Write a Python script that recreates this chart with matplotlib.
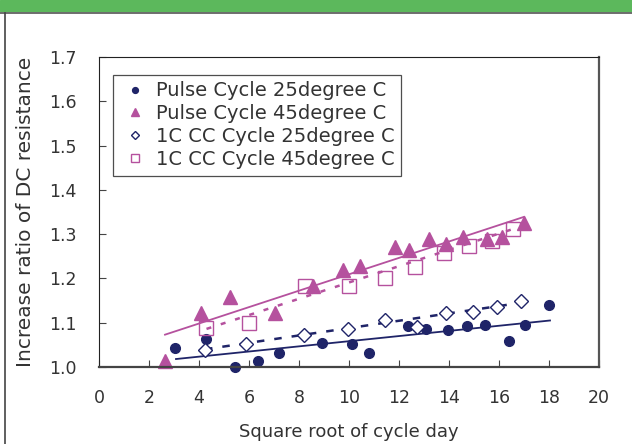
import numpy as np
import matplotlib.pyplot as plt
from matplotlib.patches import Rectangle

# data
pulse25_x = [3.04, 4.28, 5.44, 6.36, 7.2, 8.92, 10.12, 10.8, 12.36, 13.08, 13.96, 14.72, 15.44, 16.4, 17.04, 18.0]
pulse25_y = [1.043, 1.064, 1.000, 1.014, 1.032, 1.055, 1.052, 1.032, 1.093, 1.086, 1.084, 1.093, 1.095, 1.059, 1.095, 1.141]

pulse45_x = [2.64, 4.08, 5.24, 7.04, 8.56, 9.76, 10.44, 11.84, 12.4, 13.2, 13.88, 14.56, 15.52, 16.12, 17.0]
pulse45_y = [1.014, 1.123, 1.157, 1.123, 1.182, 1.220, 1.227, 1.270, 1.265, 1.290, 1.277, 1.293, 1.288, 1.293, 1.325]

cc25_x = [4.24, 5.88, 8.2, 9.96, 11.44, 12.72, 13.88, 14.96, 15.92, 16.88]
cc25_y = [1.039, 1.052, 1.073, 1.086, 1.107, 1.091, 1.123, 1.125, 1.136, 1.150]

cc45_x = [4.28, 6.0, 8.24, 10.0, 11.44, 12.64, 13.8, 14.8, 15.72, 16.56]
cc45_y = [1.089, 1.100, 1.184, 1.184, 1.202, 1.225, 1.257, 1.273, 1.284, 1.311]

# trend line end points
trend_p25_x = [3.08, 18.04]
trend_p25_y = [1.018, 1.105]
trend_p45_x = [2.64, 17.0]
trend_p45_y = [1.073, 1.339]
trend_cc25_x = [4.24, 16.88]
trend_cc25_y = [1.040, 1.145]
trend_cc45_x = [4.3, 16.8]
trend_cc45_y = [1.086, 1.316]

xticks = np.arange(0, 21, 2)
yticks = [1.0, 1.1, 1.2, 1.3, 1.4, 1.5, 1.6, 1.7]

navy = '#1f2468'
magenta = '#b5519e'
txt = '#333333'

plt.rcParams['font.family'] = ['DejaVu Sans']

fig = plt.figure(figsize=(6.32, 4.44), dpi=100)

# green banner and frame lines
fig.patches.append(Rectangle((0, 1 - 11 / 444), 1, 11 / 444, transform=fig.transFigure,
                             color='#5cb85c', zorder=0))
fig.add_artist(plt.Line2D([0, 1], [1 - 13 / 444, 1 - 13 / 444], transform=fig.transFigure,
                          color='#555555', lw=1.2))
fig.add_artist(plt.Line2D([4.5 / 632, 4.5 / 632], [0, 1 - 13 / 444], transform=fig.transFigure,
                          color='#444444', lw=1.2))

ax = fig.add_axes([99 / 632, 1 - 367 / 444, 500 / 632, 310 / 444])

ax.plot(trend_p25_x, trend_p25_y, color=navy, lw=1.3)
ax.plot(trend_p45_x, trend_p45_y, color=magenta, lw=1.3)
ax.plot(trend_cc25_x, trend_cc25_y, color=navy, lw=1.8, ls=(0, (3, 4)))
ax.plot(trend_cc45_x, trend_cc45_y, color=magenta, lw=1.8, ls=(0, (2, 4)))

ax.plot(pulse25_x, pulse25_y, 'o', color=navy, ms=7, label='Pulse Cycle 25degree C', clip_on=False)
ax.plot(pulse45_x, pulse45_y, '^', color=magenta, ms=10, label='Pulse Cycle 45degree C', clip_on=False)
ax.plot(cc25_x, cc25_y, 'D', mfc='white', mec=navy, mew=1.0, ms=7, label='1C CC Cycle 25degree C')
ax.plot(cc45_x, cc45_y, 's', mfc='none', mec=magenta, mew=1.0, ms=10, label='1C CC Cycle 45degree C')

ax.set_xlim(0, 20)
ax.set_ylim(1.0, 1.7)
ax.set_xticks(xticks)
ax.set_yticks(yticks)
ax.set_yticklabels([f'{v:.1f}' for v in yticks])
ax.tick_params(direction='in', length=5, labelsize=12.5, colors='#444444', labelcolor=txt)
ax.tick_params(axis='y', pad=16)
ax.tick_params(axis='x', pad=16)
for s in ax.spines.values():
    s.set_color('#222222')
ax.spines['right'].set_color('#555555')
ax.spines['bottom'].set_color('#444444')
ax.spines['right'].set_linewidth(1.6)
ax.spines['bottom'].set_linewidth(1.6)

ax.set_xlabel('Square root of cycle day', fontsize=13, color=txt, labelpad=11)
ax.set_ylabel('Increase ratio of DC resistance', fontsize=14.5, color=txt, labelpad=10)

leg = ax.legend(loc='upper left', bbox_to_anchor=(14 / 500, 1 - 18 / 310), fontsize=14,
                frameon=True, fancybox=False, edgecolor='#222222', handlelength=1.6,
                handletextpad=0.3, borderpad=0.33, labelspacing=0.2, markerscale=0.6,
                borderaxespad=0)
for t in leg.get_texts():
    t.set_color(txt)
leg.get_frame().set_linewidth(0.9)

fig.savefig('out.png', dpi=100)
